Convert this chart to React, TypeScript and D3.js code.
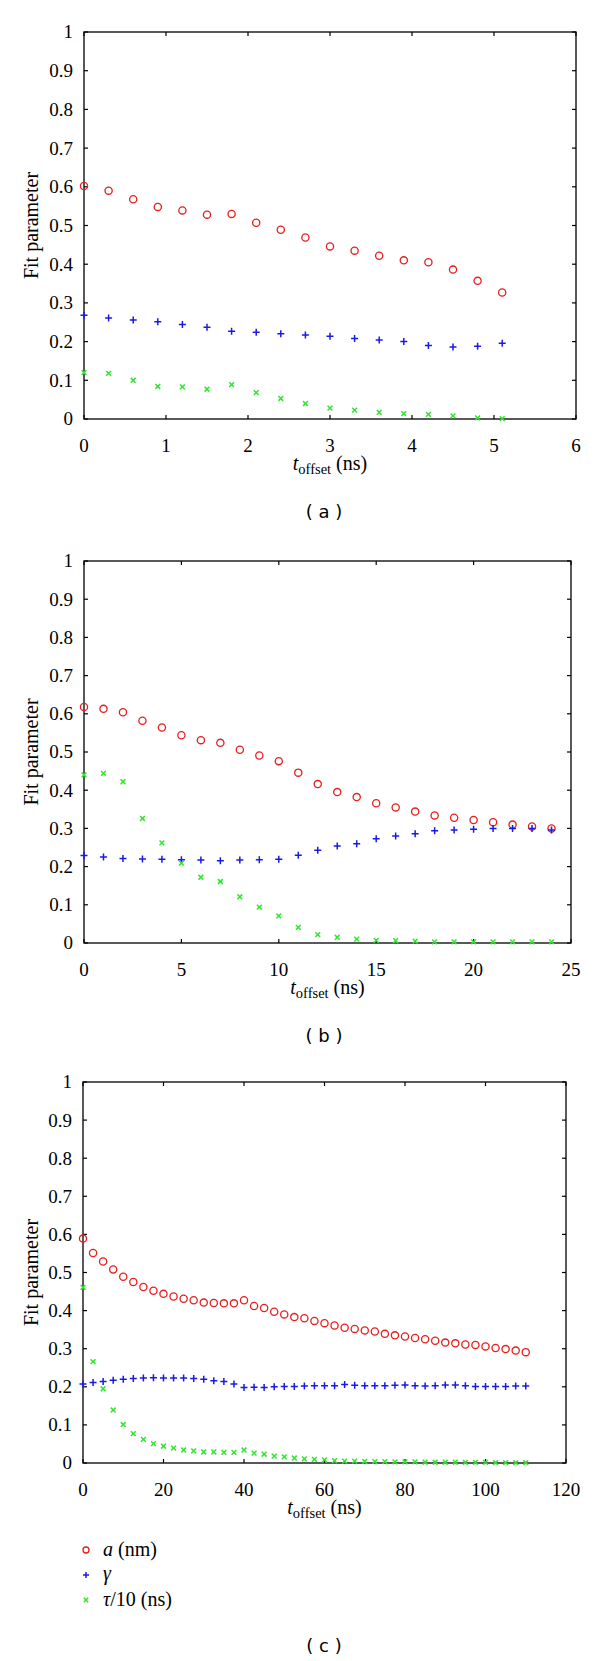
import React from "react";
import * as d3 from "d3";

const yTicks = [0, 0.1, 0.2, 0.3, 0.4, 0.5, 0.6, 0.7, 0.8, 0.9, 1];
const yTickLabels = ["0", "0.1", "0.2", "0.3", "0.4", "0.5", "0.6", "0.7", "0.8", "0.9", "1"];

// Panel (a)
const aXTicks = [0, 1, 2, 3, 4, 5, 6];
const aX = [0, 0.3, 0.6, 0.9, 1.2, 1.5, 1.8, 2.1, 2.4, 2.7, 3.0, 3.3, 3.6, 3.9, 4.2, 4.5, 4.8, 5.1];
const aRed = [0.602, 0.59, 0.568, 0.548, 0.539, 0.528, 0.53, 0.507, 0.489, 0.469, 0.446, 0.435, 0.422, 0.41, 0.405, 0.386, 0.357, 0.327];
const aBlue = [0.268, 0.261, 0.256, 0.251, 0.244, 0.237, 0.227, 0.224, 0.22, 0.217, 0.214, 0.208, 0.204, 0.2, 0.19, 0.186, 0.188, 0.196];
const aGreen = [0.12, 0.118, 0.1, 0.084, 0.083, 0.077, 0.089, 0.068, 0.053, 0.04, 0.028, 0.023, 0.017, 0.014, 0.012, 0.008, 0.003, 0.001];

// Panel (b)
const bXTicks = [0, 5, 10, 15, 20, 25];
const bX = [0, 1, 2, 3, 4, 5, 6, 7, 8, 9, 10, 11, 12, 13, 14, 15, 16, 17, 18, 19, 20, 21, 22, 23, 24];
const bRed = [0.618, 0.613, 0.604, 0.582, 0.564, 0.544, 0.531, 0.524, 0.506, 0.491, 0.476, 0.446, 0.416, 0.395, 0.382, 0.366, 0.355, 0.344, 0.334, 0.328, 0.322, 0.316, 0.31, 0.305, 0.3];
const bBlue = [0.229, 0.225, 0.221, 0.22, 0.219, 0.218, 0.217, 0.215, 0.217, 0.218, 0.219, 0.23, 0.243, 0.254, 0.26, 0.273, 0.28, 0.286, 0.294, 0.296, 0.298, 0.3, 0.3, 0.3, 0.296];
const bGreen = [0.44, 0.444, 0.422, 0.326, 0.262, 0.209, 0.172, 0.161, 0.121, 0.094, 0.071, 0.041, 0.022, 0.015, 0.01, 0.007, 0.006, 0.005, 0.003, 0.003, 0.003, 0.003, 0.003, 0.003, 0.003];

// Panel (c)
const cXTicks = [0, 20, 40, 60, 80, 100, 120];
const cX = [0, 2.5, 5, 7.5, 10, 12.5, 15, 17.5, 20, 22.5, 25, 27.5, 30, 32.5, 35, 37.5, 40, 42.5, 45, 47.5, 50, 52.5, 55, 57.5, 60, 62.5, 65, 67.5, 70, 72.5, 75, 77.5, 80, 82.5, 85, 87.5, 90, 92.5, 95, 97.5, 100, 102.5, 105, 107.5, 110];
const cRed = [0.589, 0.551, 0.529, 0.508, 0.489, 0.475, 0.462, 0.452, 0.444, 0.437, 0.431, 0.427, 0.421, 0.42, 0.419, 0.419, 0.427, 0.412, 0.407, 0.397, 0.39, 0.383, 0.38, 0.373, 0.367, 0.361, 0.355, 0.352, 0.348, 0.345, 0.339, 0.335, 0.332, 0.328, 0.325, 0.321, 0.316, 0.314, 0.311, 0.31, 0.306, 0.302, 0.299, 0.295, 0.291];
const cBlue = [0.2075, 0.211, 0.214, 0.217, 0.22, 0.2215, 0.223, 0.224, 0.223, 0.223, 0.223, 0.2215, 0.22, 0.216, 0.214, 0.2075, 0.198, 0.199, 0.198, 0.2, 0.2005, 0.201, 0.202, 0.203, 0.203, 0.203, 0.206, 0.204, 0.203, 0.203, 0.203, 0.204, 0.205, 0.203, 0.202, 0.203, 0.205, 0.205, 0.203, 0.201, 0.201, 0.201, 0.201, 0.202, 0.202];
const cGreen = [0.461, 0.266, 0.195, 0.139, 0.101, 0.077, 0.062, 0.051, 0.044, 0.039, 0.034, 0.032, 0.029, 0.029, 0.028, 0.028, 0.034, 0.026, 0.023, 0.018, 0.016, 0.013, 0.011, 0.0095, 0.008, 0.006, 0.005, 0.005, 0.004, 0.0035, 0.0035, 0.003, 0.003, 0.003, 0.002, 0.002, 0.002, 0.002, 0.0015, 0.0015, 0.0015, 0.001, 0.001, 0.001, 0.001];

const RED = "#e61e1e";
const BLUE = "#1a1ae6";
const GREEN = "#2ee62e";
const SERIF = "Liberation Serif, DejaVu Serif, serif";
const SANS = "DejaVu Sans, Verdana, sans-serif";

function Circle({ x, y, r = 3.6 }: { x: number; y: number; r?: number }) {
  return <circle cx={x} cy={y} r={r} fill="none" stroke={RED} strokeWidth={1.3} />;
}
function Plus({ x, y, s = 3.5 }: { x: number; y: number; s?: number }) {
  return (
    <path d={`M${x - s},${y}H${x + s}M${x},${y - s}V${y + s}`} stroke={BLUE} strokeWidth={1.5} fill="none" />
  );
}
function Cross({ x, y, s = 2.4 }: { x: number; y: number; s?: number }) {
  return (
    <path d={`M${x - s},${y - s}L${x + s},${y + s}M${x - s},${y + s}L${x + s},${y - s}`} stroke={GREEN} strokeWidth={1.5} fill="none" />
  );
}

type PanelProps = {
  left: number; right: number; top: number; bottom: number;
  xMax: number; xTicks: number[]; xs: number[];
  red: number[]; blue: number[]; green: number[];
  label: string; labelY: number;
};

function Panel(p: PanelProps) {
  const x = d3.scaleLinear().domain([0, p.xMax]).range([p.left, p.right]);
  const y = d3.scaleLinear().domain([0, 1]).range([p.bottom, p.top]);
  const tl = 4;
  const midX = (p.left + p.right) / 2;
  const midY = (p.top + p.bottom) / 2;
  return (
    <g>
      <rect x={p.left} y={p.top} width={p.right - p.left} height={p.bottom - p.top} fill="none" stroke="#000" strokeWidth={1.3} />
      {yTicks.map((t, i) => (
        <g key={"y" + i}>
          <line x1={p.left} x2={p.left + tl} y1={y(t)} y2={y(t)} stroke="#000" strokeWidth={1.2} />
          <line x1={p.right} x2={p.right - tl} y1={y(t)} y2={y(t)} stroke="#000" strokeWidth={1.2} />
          <text x={p.left - 11} y={y(t)} dy="0.34em" textAnchor="end" style={{ fontFamily: SERIF, fontSize: 19 }}>{yTickLabels[i]}</text>
        </g>
      ))}
      {p.xTicks.map((t, i) => (
        <g key={"x" + i}>
          <line x1={x(t)} x2={x(t)} y1={p.bottom} y2={p.bottom - tl} stroke="#000" strokeWidth={1.2} />
          <line x1={x(t)} x2={x(t)} y1={p.top} y2={p.top + tl} stroke="#000" strokeWidth={1.2} />
          <text x={x(t)} y={p.bottom + 33} textAnchor="middle" style={{ fontFamily: SERIF, fontSize: 19 }}>{String(t)}</text>
        </g>
      ))}
      <text transform={`translate(${31},${midY}) rotate(-90)`} dy="0.34em" textAnchor="middle" style={{ fontFamily: SERIF, fontSize: 20 }}>Fit parameter</text>
      <text x={midX} y={p.bottom + 51} textAnchor="middle" style={{ fontFamily: SERIF, fontSize: 20 }}>
        <tspan style={{ fontStyle: "italic" }}>t</tspan>
        <tspan style={{ fontSize: 14.5 }} dy={4}>offset</tspan>
        <tspan dy={-4}> (ns)</tspan>
      </text>
      {p.xs.map((v, i) => <Circle key={"r" + i} x={x(v)} y={y(p.red[i])} />)}
      {p.xs.map((v, i) => <Plus key={"b" + i} x={x(v)} y={y(p.blue[i])} />)}
      {p.xs.map((v, i) => <Cross key={"g" + i} x={x(v)} y={y(p.green[i])} />)}
      <text x={324} y={p.labelY} textAnchor="middle" style={{ fontFamily: SANS, fontSize: 18 }}>{p.label}</text>
    </g>
  );
}

export default function App() {
  return (
    <svg width={600} height={1661} style={{ position: "absolute", left: 0, top: 0, background: "#fff" }}>
      <rect width={600} height={1661} fill="#fff" />
      <Panel left={84} right={576} top={32} bottom={419} xMax={6} xTicks={aXTicks} xs={aX} red={aRed} blue={aBlue} green={aGreen} label="( a )" labelY={518} />
      <Panel left={84} right={571} top={561} bottom={943} xMax={25} xTicks={bXTicks} xs={bX} red={bRed} blue={bBlue} green={bGreen} label="( b )" labelY={1042} />
      <Panel left={83} right={566} top={1082} bottom={1463} xMax={120} xTicks={cXTicks} xs={cX} red={cRed} blue={cBlue} green={cGreen} label="( c )" labelY={1652} />
      <g>
        <Circle x={86} y={1550} r={3} />
        <text x={103} y={1556} style={{ fontFamily: SERIF, fontSize: 20 }}>
          <tspan style={{ fontStyle: "italic" }}>a</tspan>
          <tspan> (nm)</tspan>
        </text>
        <Plus x={86} y={1575} s={3} />
        <text x={103} y={1580} style={{ fontFamily: SERIF, fontSize: 20, fontStyle: "italic" }}>γ</text>
        <Cross x={86} y={1600} s={2.2} />
        <text x={103} y={1606} style={{ fontFamily: SERIF, fontSize: 20 }}>
          <tspan style={{ fontStyle: "italic" }}>τ</tspan>
          <tspan>/10 (ns)</tspan>
        </text>
      </g>
    </svg>
  );
}
